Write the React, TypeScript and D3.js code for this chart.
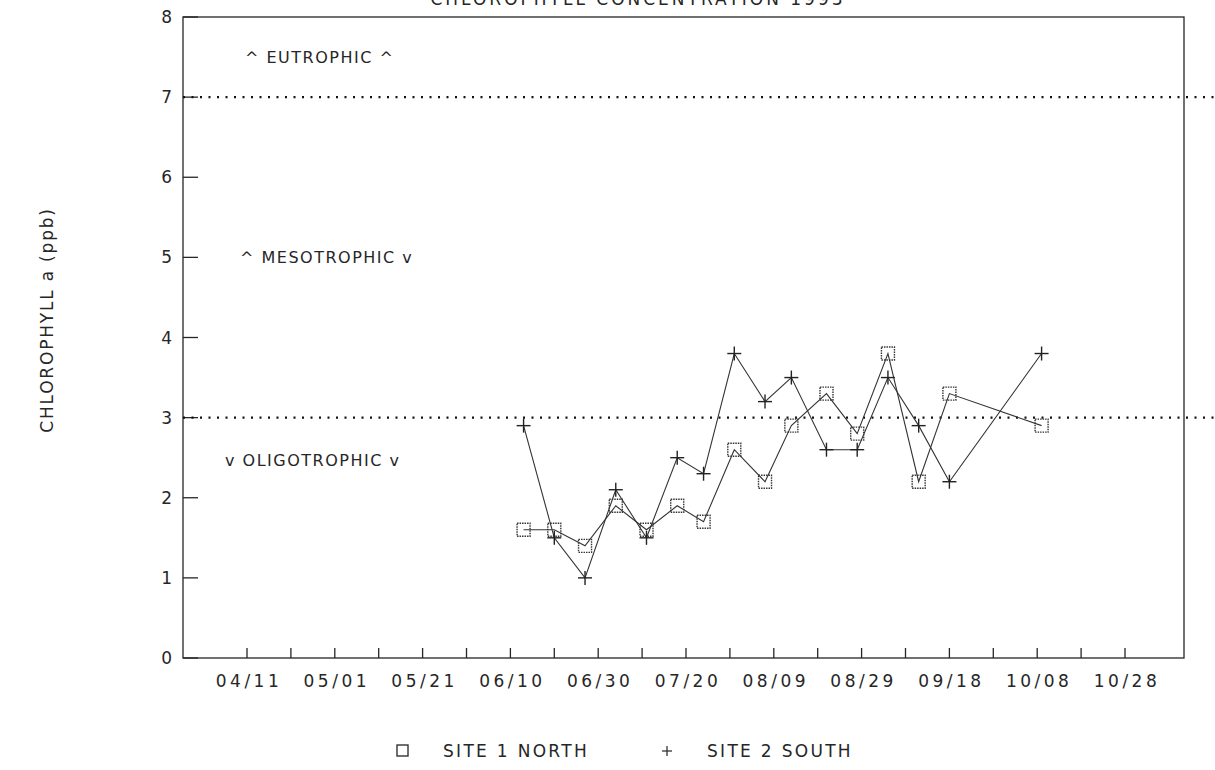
import React from "react";
import * as d3 from "d3";

const YEAR = 1993;
const sampleDates = ["06/13","06/20","06/27","07/04","07/11","07/18","07/24","07/31","08/07","08/13","08/21","08/28","09/04","09/11","09/18","10/09"];
const site1North = [1.6,1.6,1.4,1.9,1.6,1.9,1.7,2.6,2.2,2.9,3.3,2.8,3.8,2.2,3.3,2.9];
const site2South = [2.9,1.5,1.0,2.1,1.5,2.5,2.3,3.8,3.2,3.5,2.6,2.6,3.5,2.9,2.2,3.8];
const tickLabels = ["04/11","05/01","05/21","06/10","06/30","07/20","08/09","08/29","09/18","10/08","10/28"];
const yTicks = [0,1,2,3,4,5,6,7,8];
const thresholds = [3,7];
const zoneLabels = [
  { text: "^ EUTROPHIC ^", v: 7.5, x: 245 },
  { text: "^ MESOTROPHIC v", v: 5.0, x: 240 },
  { text: "v OLIGOTROPHIC v", v: 2.47, x: 225 },
];

const parse = (s: string) => {
  const [m, d] = s.split("/").map(Number);
  return new Date(YEAR, m - 1, d);
};

const W = 1215, H = 770;
const L = 183, R = 1184, T = 17, B = 658;
const FONT = "'DejaVu Sans', sans-serif";
const INK = "#262626";

export default function App() {
  const first = parse(tickLabels[0]);
  const last = parse(tickLabels[tickLabels.length - 1]);
  const dayMs = 86400000;
  const pxPerDay = 4.39;
  const x0 = 247;
  const x = d3
    .scaleTime()
    .domain([
      new Date(first.getTime() - ((x0 - L) / pxPerDay) * dayMs),
      new Date(first.getTime() + ((R - x0) / pxPerDay) * dayMs),
    ])
    .range([L, R]);
  const y = d3.scaleLinear().domain([0, 8]).range([B, T]);

  const totalDays = Math.round((last.getTime() - first.getTime()) / dayMs);
  const minorTicks = d3.range(0, totalDays + 1, 10).map((dd) => d3.timeDay.offset(first, dd));

  const pts1 = sampleDates.map((d, i) => [x(parse(d)), y(site1North[i])] as [number, number]);
  const pts2 = sampleDates.map((d, i) => [x(parse(d)), y(site2South[i])] as [number, number]);
  const line = d3.line<[number, number]>();

  return (
    <svg width={W} height={H} style={{ position: "absolute", left: 0, top: 0, background: "#fff" }} fontFamily={FONT}>
      <rect x={0} y={0} width={W} height={H} fill="#fff" />
      <text x={638} y={5} textAnchor="middle" fontSize={17} letterSpacing={3} fill={INK}>CHLOROPHYLL CONCENTRATION {YEAR}</text>
      {/* frame */}
      <rect x={L} y={T} width={R - L} height={B - T} fill="none" stroke={INK} strokeWidth={1.3} />
      {/* y ticks */}
      {yTicks.map((v) => (
        <g key={v}>
          <line x1={L} x2={L + 15} y1={y(v)} y2={y(v)} stroke={INK} strokeWidth={1.3} />
          <text x={172} y={y(v) + 6} textAnchor="end" fontSize={17} fill={INK}>{v}</text>
        </g>
      ))}
      {/* x ticks */}
      {minorTicks.map((d, i) => (
        <line key={i} x1={x(d)} x2={x(d)} y1={B} y2={B - 10} stroke={INK} strokeWidth={1.3} />
      ))}
      {tickLabels.map((t) => (
        <text key={t} x={x(parse(t)) + 2} y={B + 29} textAnchor="middle" fontSize={17} letterSpacing={3.5} fill={INK}>{t}</text>
      ))}
      {/* thresholds */}
      {thresholds.map((v) => (
        <line key={v} x1={L} x2={W} y1={y(v)} y2={y(v)} stroke="#111" strokeWidth={2.2} strokeDasharray="2 6.5" />
      ))}
      {zoneLabels.map((z) => (
        <text key={z.text} x={z.x} y={y(z.v) + 6} fontSize={16} letterSpacing={1.5} fill={INK}>{z.text}</text>
      ))}
      {/* y title */}
      <text transform={`translate(53,${320}) rotate(-90)`} textAnchor="middle" fontSize={17} letterSpacing={1.8} fill={INK}>CHLOROPHYLL a (ppb)</text>
      {/* series */}
      <path d={line(pts1)!} fill="none" stroke="#333" strokeWidth={1.1} />
      <path d={line(pts2)!} fill="none" stroke="#333" strokeWidth={1.1} />
      {pts1.map(([px, py], i) => (
        <rect key={i} x={px - 6.5} y={py - 6.5} width={13} height={13} fill="none" stroke="#333" strokeWidth={1.4} strokeDasharray="1.5 1" />
      ))}
      {pts2.map(([px, py], i) => (
        <g key={i} stroke="#222" strokeWidth={1.4}>
          <line x1={px - 7} x2={px + 7} y1={py} y2={py} />
          <line x1={px} x2={px} y1={py - 7} y2={py + 7} />
        </g>
      ))}
      {/* legend */}
      <rect x={397} y={745} width={11} height={11} fill="none" stroke="#333" strokeWidth={1.4} />
      <text x={443} y={757} fontSize={17} letterSpacing={2.3} fill={INK}>SITE 1 NORTH</text>
      <g stroke="#333" strokeWidth={1.3}>
        <line x1={662} x2={672} y1={751} y2={751} />
        <line x1={667} x2={667} y1={746} y2={756} />
      </g>
      <text x={707} y={757} fontSize={17} letterSpacing={2.3} fill={INK}>SITE 2 SOUTH</text>
    </svg>
  );
}
